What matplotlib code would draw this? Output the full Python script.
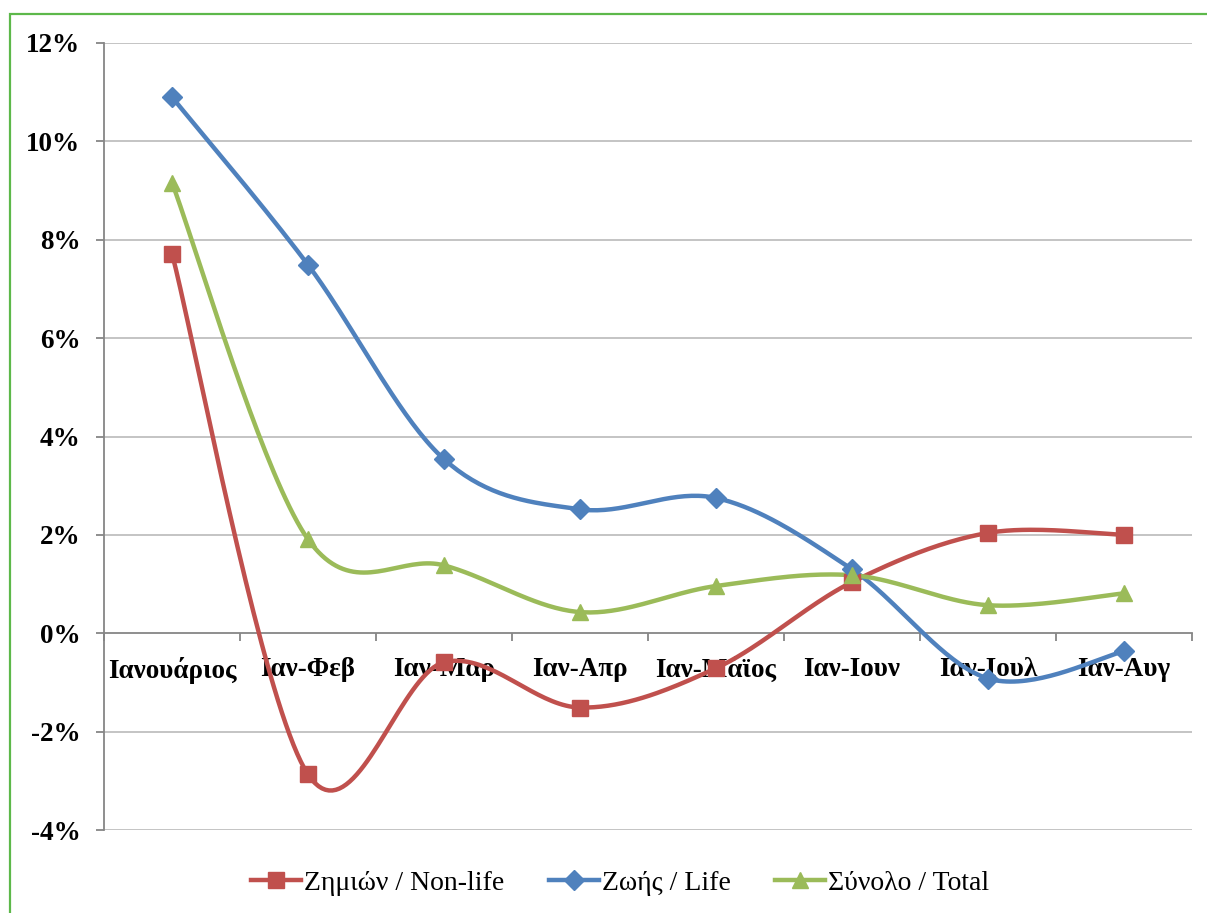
import numpy as np
import matplotlib
matplotlib.use("Agg")
import matplotlib.pyplot as plt
from matplotlib.patches import Rectangle
from matplotlib.lines import Line2D

categories = ["Ιανουάριος", "Ιαν-Φεβ", "Ιαν-Μαρ", "Ιαν-Απρ", "Ιαν-Μάϊος", "Ιαν-Ιουν", "Ιαν-Ιουλ", "Ιαν-Αυγ"]
non_life = [7.72, -2.87, -0.59, -1.51, -0.71, 1.04, 2.04, 2.00]
life = [10.90, 7.49, 3.54, 2.52, 2.75, 1.30, -0.92, -0.37]
total = [9.16, 1.91, 1.38, 0.43, 0.96, 1.18, 0.57, 0.81]
series_names = ["Ζημιών / Non-life", "Ζωής / Life", "Σύνολο / Total"]
yticks = [-4, -2, 0, 2, 4, 6, 8, 10, 12]

colors = ["#C0504D", "#4F81BD", "#9BBB59"]
markers = ["s", "D", "^"]
msizes = [11, 10, 12]

W, H = 1207, 913
fig = plt.figure(figsize=(W / 100, H / 100), dpi=100)
plt.rcParams['font.family'] = ['Liberation Serif', 'DejaVu Serif']

# green outer frame
fig.patches.append(Rectangle((10 / W, -0.05), 1.1, 1 - 14 / H + 0.05, transform=fig.transFigure,
                             fill=False, edgecolor="#5DB84A", linewidth=1.6))

left, right, top, bottom = 104, 1192, 43, 830
ax = fig.add_axes([left / W, 1 - bottom / H, (right - left) / W, (bottom - top) / H])
ax.set_xlim(0, len(categories))
ax.set_ylim(-4, 12)


def smooth(xs, ys, n=40):
    pts = np.column_stack([xs, ys]).astype(float)
    out = [pts[0]]
    N = len(pts)
    for i in range(N - 1):
        p0 = pts[i - 1] if i > 0 else pts[i]
        p1 = pts[i]
        p2 = pts[i + 1]
        p3 = pts[i + 2] if i + 2 < N else pts[i + 1]
        c1 = p1 + (p2 - p0) / 6.0
        c2 = p2 - (p3 - p1) / 6.0
        t = np.linspace(0, 1, n)[1:, None]
        seg = ((1 - t) ** 3) * p1 + 3 * ((1 - t) ** 2) * t * c1 + 3 * (1 - t) * t ** 2 * c2 + t ** 3 * p2
        out.extend(seg)
    out = np.array(out)
    return out[:, 0], out[:, 1]


xs = np.arange(len(categories)) + 0.5
for vals, c, m, ms in zip([non_life, life, total], colors, markers, msizes):
    sx, sy = smooth(xs, vals)
    ax.plot(sx, sy, color=c, lw=3.2, solid_capstyle="round", zorder=3)
    ax.plot(xs, vals, linestyle="none", marker=m, markersize=ms, color=c, zorder=4)

# gridlines
for y in yticks:
    if y != 0:
        ax.axhline(y, color="#BFBFBF", lw=1.3, zorder=1)

for s in ["top", "right"]:
    ax.spines[s].set_visible(False)
ax.spines["bottom"].set_position(("data", 0))
ax.spines["bottom"].set_color("#868686")
ax.spines["bottom"].set_linewidth(1.3)
ax.spines["left"].set_color("#868686")
ax.spines["left"].set_linewidth(1.3)

ax.set_yticks(yticks)
ax.set_yticklabels([f"{v}%" for v in yticks], fontsize=19.5, fontweight="bold")
ax.tick_params(axis="y", length=6, color="#868686", width=1.3, pad=11)

ax.set_xticks(np.arange(len(categories) + 1))
ax.set_xticklabels([])
ax.tick_params(axis="x", which="major", length=6, color="#868686", width=1.3, direction="out")
ax.set_xticks(xs, minor=True)
ax.set_xticklabels(categories, minor=True, fontsize=19.5, fontweight="bold")
ax.tick_params(axis="x", which="minor", length=0, pad=17)

handles = [Line2D([], [], color=c, lw=3.2, marker=m, markersize=ms) for c, m, ms in zip(colors, markers, msizes)]
fig.legend(handles, series_names, loc="center", bbox_to_anchor=(620 / W, 1 - 883 / H), ncol=3,
           frameon=False, fontsize=20, handlelength=1.8, handletextpad=0.1, columnspacing=1.6)

fig.savefig("out.png", dpi=100)
